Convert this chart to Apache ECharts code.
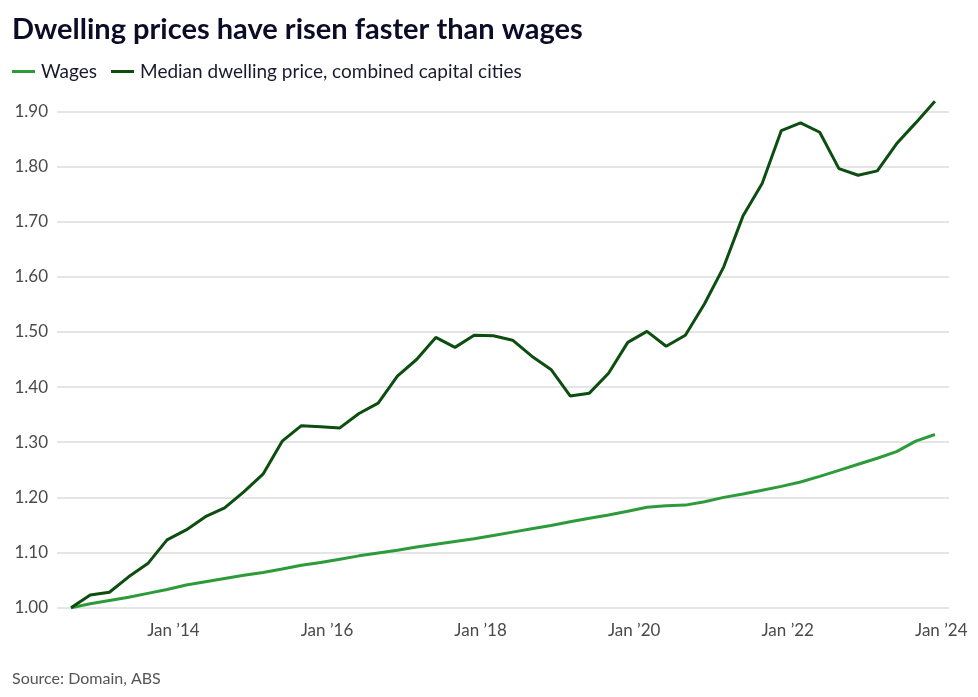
<!DOCTYPE html>
<html>
<head>
<meta charset="utf-8">
<script src="https://cdn.jsdelivr.net/npm/echarts@6/dist/echarts.min.js"></script>
<style>
html,body{margin:0;padding:0;background:#fff;}
#c{width:978px;height:697px;}
</style>
</head>
<body>
<div id="c"></div>
<script>
const quarters = ["2012-09","2012-12","2013-03","2013-06","2013-09","2013-12","2014-03","2014-06","2014-09","2014-12",
"2015-03","2015-06","2015-09","2015-12","2016-03","2016-06","2016-09","2016-12","2017-03","2017-06",
"2017-09","2017-12","2018-03","2018-06","2018-09","2018-12","2019-03","2019-06","2019-09","2019-12",
"2020-03","2020-06","2020-09","2020-12","2021-03","2021-06","2021-09","2021-12","2022-03","2022-06",
"2022-09","2022-12","2023-03","2023-06","2023-09","2023-12"];
const wages = [1.000,1.007,1.013,1.019,1.026,1.033,1.041,1.047,1.053,1.059,
1.064,1.070,1.077,1.082,1.088,1.094,1.099,1.104,1.110,1.115,
1.120,1.125,1.131,1.137,1.143,1.149,1.156,1.162,1.168,1.175,
1.182,1.185,1.186,1.192,1.200,1.206,1.213,1.220,1.228,1.238,
1.249,1.260,1.271,1.283,1.302,1.314];
const dwelling = [1.000,1.023,1.028,1.056,1.080,1.123,1.141,1.165,1.181,1.210,
1.242,1.302,1.330,1.328,1.326,1.352,1.371,1.420,1.450,1.490,
1.472,1.494,1.493,1.485,1.456,1.432,1.384,1.389,1.425,1.481,
1.501,1.474,1.494,1.551,1.618,1.710,1.769,1.865,1.879,1.862,
1.796,1.784,1.792,1.841,1.879,1.918];
const xTickYears = [2014,2016,2018,2020,2022,2024];
const yTicks = [1.0,1.1,1.2,1.3,1.4,1.5,1.6,1.7,1.8,1.9];

function toYear(q){const p=q.split('-');return +p[0]+(+p[1]-1)/12;}
const font = 'Lato, "Open Sans", sans-serif';
const chart = echarts.init(document.getElementById('c'));
chart.setOption({
  animation:false,
  backgroundColor:'#fff',
  title:{text:'Dwelling prices have risen faster than wages',left:7,top:10,
    textStyle:{fontFamily:font,fontWeight:'bold',fontSize:29,color:'#0b0c26'}},
  legend:{left:7,top:57,itemWidth:23,itemHeight:3,itemGap:14,icon:'rect',
    textStyle:{fontFamily:font,fontSize:19,color:'#1a1a2e',padding:[0,0,0,1]},
    data:['Wages','Median dwelling price, combined capital cities']},
  grid:{left:57,right:29,top:111.3,bottom:89.3,containLabel:false},
  xAxis:{type:'value',min:2012.484,max:2024.10,
    axisLine:{show:false},axisTick:{show:false},splitLine:{show:false},
    axisLabel:{customValues:xTickYears,margin:14,fontFamily:font,fontSize:17,color:'#4a4a4a',
      formatter:v=>"Jan \u2019"+String(Math.round(v)).slice(2)}},
  yAxis:{type:'value',min:1,max:1.9,interval:0.1,
    axisLine:{show:false},axisTick:{show:false},
    splitLine:{lineStyle:{color:'#dddddd',width:1.5}},
    axisLabel:{margin:9,fontFamily:font,fontSize:17,color:'#4a4a4a',formatter:v=>v.toFixed(2)}},
  graphic:[{type:'text',left:12,top:671,style:{text:'Source: Domain, ABS',font:'16px '+font,fill:'#555'}}],
  series:[
    {name:'Wages',type:'line',showSymbol:false,clip:false,color:'#2e9b3b',
      lineStyle:{width:3,color:'#2e9b3b'},data:quarters.map((q,i)=>[toYear(q),wages[i]])},
    {name:'Median dwelling price, combined capital cities',type:'line',showSymbol:false,clip:false,color:'#0c4e10',
      lineStyle:{width:3,color:'#0c4e10'},data:quarters.map((q,i)=>[toYear(q),dwelling[i]])}
  ]
});
</script>
</body>
</html>
